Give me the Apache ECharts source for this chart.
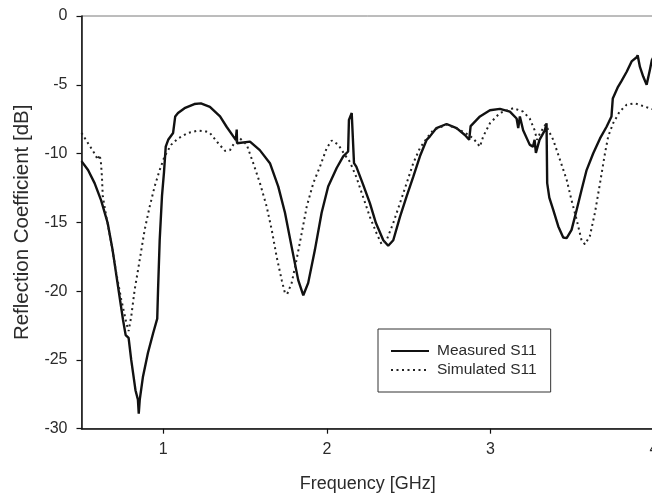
<!DOCTYPE html>
<html>
<head>
<meta charset="utf-8">
<script src="https://cdn.jsdelivr.net/npm/echarts@6/dist/echarts.min.js"></script>
<style>
  html, body { margin: 0; padding: 0; background: #fff; }
  #chart { width: 652px; height: 500px; }
</style>
</head>
<body>
<div id="chart"></div>
<script>
// Measured S11 (frequency in GHz, reflection coefficient in dB)
const measFreq = [
  0.50, 0.54, 0.58, 0.62, 0.66, 0.69, 0.72, 0.754, 0.77, 0.788,
  0.804, 0.83, 0.845, 0.85, 0.856, 0.876, 0.906, 0.937, 0.963, 0.968,
  0.978, 0.992, 1.004, 1.015, 1.03, 1.06, 1.07, 1.073, 1.09, 1.13,
  1.19, 1.23, 1.285, 1.347, 1.387, 1.428, 1.443, 1.449, 1.451, 1.458,
  1.53, 1.59, 1.652, 1.703, 1.744, 1.785, 1.825, 1.856, 1.886, 1.927,
  1.968, 2.008, 2.06, 2.10, 2.13, 2.135, 2.152, 2.16, 2.166, 2.18,
  2.22, 2.263, 2.30, 2.345, 2.375, 2.406, 2.447, 2.488, 2.528, 2.569,
  2.61, 2.63, 2.67, 2.732, 2.793, 2.844, 2.87, 2.879, 2.936, 2.997,
  3.058, 3.119, 3.16, 3.17, 3.18, 3.20, 3.24, 3.26, 3.27, 3.278,
  3.30, 3.333, 3.343, 3.347, 3.36, 3.384, 3.415, 3.445, 3.466, 3.496,
  3.527, 3.557, 3.588, 3.628, 3.67, 3.71, 3.74, 3.748, 3.78, 3.80,
  3.833, 3.863, 3.894, 3.90, 3.914, 3.934, 3.955, 3.975, 3.987, 4.0
];
const measS11 = [
  -10.55, -11.2, -12.15, -13.4, -15.05, -17.0, -19.4, -22.1, -23.2, -23.4,
  -25.0, -27.2, -27.9, -28.9, -27.9, -26.2, -24.5, -23.1, -22.0, -19.9,
  -16.3, -13.1, -11.4, -9.5, -9.0, -8.5, -8.4, -7.3, -7.05, -6.7,
  -6.4, -6.35, -6.6, -7.3, -8.05, -8.75, -9.0, -8.25, -9.25, -9.13,
  -9.13, -9.75, -10.7, -12.4, -14.3, -16.8, -19.2, -20.3, -19.4, -17.0,
  -14.3, -12.4, -11.05, -10.2, -9.85, -7.55, -7.05, -6.95, -10.7, -10.95,
  -12.2, -13.6, -15.05, -16.3, -16.7, -16.3, -14.6, -13.1, -11.7, -10.2,
  -9.0, -8.75, -8.15, -7.85, -8.15, -8.65, -9.0, -8.0, -7.3, -6.85,
  -6.75, -6.95, -7.45, -8.15, -7.3, -8.3, -9.35, -9.5, -9.0, -9.95,
  -9.0, -8.3, -7.8, -12.15, -13.2, -14.1, -15.3, -16.1, -16.15, -15.55,
  -14.1, -12.65, -11.2, -10.0, -8.9, -8.05, -7.3, -6.0, -5.15, -4.75,
  -4.05, -3.3, -3.0, -2.85, -3.7, -4.4, -5.0, -3.9, -3.2, -2.9
];

// Simulated S11
const simFreq = [
  0.50, 0.54, 0.58, 0.60, 0.61, 0.618, 0.625, 0.63, 0.652, 0.682,
  0.713, 0.743, 0.774, 0.788, 0.804, 0.825, 0.845, 0.866, 0.886, 0.917,
  0.947, 0.978, 1.008, 1.049, 1.09, 1.151, 1.212, 1.263, 1.285, 1.336,
  1.377, 1.408, 1.438, 1.469, 1.51, 1.55, 1.591, 1.632, 1.663, 1.693,
  1.724, 1.744, 1.758, 1.785, 1.815, 1.846, 1.877, 1.917, 1.958, 1.999,
  2.03, 2.07, 2.11, 2.141, 2.18, 2.22, 2.263, 2.304, 2.335, 2.365,
  2.406, 2.447, 2.488, 2.528, 2.569, 2.61, 2.65, 2.73, 2.80, 2.86,
  2.895, 2.936, 2.956, 2.997, 3.058, 3.14, 3.20, 3.24, 3.27, 3.285,
  3.30, 3.335, 3.35, 3.384, 3.425, 3.466, 3.496, 3.527, 3.557, 3.578,
  3.608, 3.639, 3.67, 3.70, 3.72, 3.75, 3.79, 3.833, 3.883, 3.934,
  3.985, 4.0
];
const simS11 = [
  -8.5, -9.25, -10.0, -10.45, -10.1, -10.5, -11.7, -13.1, -14.6, -16.5,
  -18.7, -20.6, -22.3, -22.9, -21.85, -19.9, -18.5, -17.0, -15.55, -13.85,
  -12.4, -11.2, -10.2, -9.35, -8.9, -8.5, -8.33, -8.4, -8.5, -9.25,
  -9.8, -9.75, -9.15, -8.9, -9.35, -10.7, -12.15, -13.85, -15.55, -17.5,
  -19.2, -20.15, -20.2, -19.4, -17.7, -15.8, -13.85, -12.15, -10.95, -9.6,
  -9.05, -9.35, -10.1, -10.6, -11.7, -13.1, -14.6, -15.8, -16.6, -16.3,
  -15.05, -13.6, -12.15, -10.7, -9.6, -8.9, -8.3, -7.9, -8.2, -8.6,
  -8.9, -9.5, -8.75, -7.8, -7.05, -6.7, -6.95, -7.45, -8.3, -9.0,
  -8.6, -7.9, -8.2, -9.0, -10.45, -11.9, -13.4, -14.8, -16.3, -16.6,
  -16.0, -14.3, -12.15, -10.0, -8.75, -7.8, -6.95, -6.45, -6.35, -6.55,
  -6.75, -6.8
];

// Axis ticks
const xTicks = [1, 2, 3, 4];
const yMin = -30, yMax = 0, yStep = 5;

const seriesNames = ['Measured S11', 'Simulated S11'];

const pairs = (xs, ys) => xs.map((x, i) => [x, ys[i]]);

const FONT = '"Liberation Sans", Arial, sans-serif';
const TEXT = '#2b2b2b';

const chart = echarts.init(document.getElementById('chart'), null, { renderer: 'canvas' });

chart.setOption({
  animation: false,
  backgroundColor: '#ffffff',
  grid: {
    left: 81.5, top: 16, right: -2, bottom: 71.3,
    containLabel: false, outerBoundsMode: 'none',
    show: true, borderColor: '#7a7a7a', borderWidth: 1, backgroundColor: 'transparent'
  },
  legend: {
    data: seriesNames,
    orient: 'vertical',
    left: 378, top: 329,
    padding: [14, 14, 14, 12],
    itemGap: 3,
    itemWidth: 38,
    itemHeight: 14,
    borderColor: '#333', borderWidth: 1,
    // line-only keys: hide the marker drawn in the middle of each key
    itemStyle: { color: 'transparent', borderColor: 'transparent', borderWidth: 0, opacity: 0 },
    textStyle: { fontFamily: FONT, fontSize: 15.5, color: TEXT, lineHeight: 16, padding: [0, 0, 0, 3] }
  },
  xAxis: {
    type: 'value', min: 0.5, max: 4,
    name: 'Frequency [GHz]', nameLocation: 'middle', nameGap: 46,
    nameTextStyle: { fontFamily: FONT, fontSize: 18, color: TEXT },
    axisLine: { onZero: false, lineStyle: { color: '#111', width: 1.5 } },
    axisTick: { show: true, customValues: xTicks, length: 5, lineStyle: { color: '#111', width: 1.2 } },
    axisLabel: { customValues: xTicks, margin: 13, fontFamily: FONT, fontSize: 16, color: TEXT,
                 showMaxLabel: true, hideOverlap: false },
    splitLine: { show: false }
  },
  yAxis: {
    type: 'value', min: yMin, max: yMax, interval: yStep,
    name: 'Reflection Coefficient [dB]', nameLocation: 'middle', nameGap: 49,
    nameTextStyle: { fontFamily: FONT, fontSize: 20.5, color: TEXT },
    axisLine: { show: true, onZero: false, lineStyle: { color: '#111', width: 1.5 } },
    axisTick: { show: true, length: 5, lineStyle: { color: '#111', width: 1.2 } },
    axisLabel: { margin: 14, fontFamily: FONT, fontSize: 16, color: TEXT },
    splitLine: { show: false }
  },
  series: [
    {
      name: seriesNames[0], type: 'line', data: pairs(measFreq, measS11),
      symbol: 'none', smooth: false, clip: true,
      lineStyle: { color: '#111', width: 2.4, type: 'solid' },
      itemStyle: { color: '#111' }
    },
    {
      name: seriesNames[1], type: 'line', data: pairs(simFreq, simS11),
      symbol: 'none', smooth: false, clip: true,
      lineStyle: { color: '#222', width: 2, type: [2, 3.5] },
      itemStyle: { color: '#222' }
    }
  ]
});
</script>
</body>
</html>
